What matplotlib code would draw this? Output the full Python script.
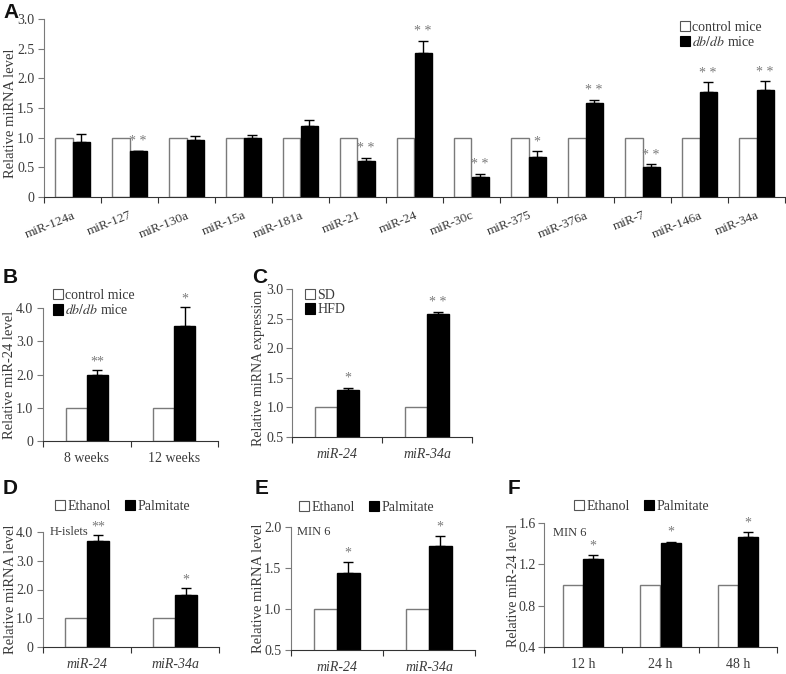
import matplotlib
matplotlib.use("Agg")
import matplotlib.pyplot as plt
import matplotlib.patches as patches
import matplotlib.transforms as mtransforms
import numpy as np

plt.rcParams['font.family'] = ['Liberation Serif', 'DejaVu Serif']
plt.rcParams['mathtext.fontset'] = 'stix'

GRAY = '#7a7a7a'
TXT = '#3a3a3a'

# ---- data ----
a_labels = ['miR-124a', 'miR-127', 'miR-130a', 'miR-15a', 'miR-181a', 'miR-21', 'miR-24',
            'miR-30c', 'miR-375', 'miR-376a', 'miR-7', 'miR-146a', 'miR-34a']
a_ctrl = [1.0] * 13
a_dbdb = [0.92, 0.77, 0.96, 1.0, 1.2, 0.61, 2.43, 0.33, 0.68, 1.59, 0.5, 1.77, 1.81]
a_err = [0.14, 0.01, 0.07, 0.05, 0.09, 0.05, 0.2, 0.06, 0.09, 0.05, 0.05, 0.16, 0.14]
a_sig = ['', '* *', '', '', '', '* *', '* *', '* *', '*', '* *', '* *', '* *', '* *']

b_labels = ['8 weeks', '12 weeks']
b_ctrl = [1.0, 1.0]
b_dbdb = [1.98, 3.45]
b_err = [0.16, 0.57]
b_sig = ['**', '*']

c_labels = ['miR-24', 'miR-34a']
c_sd = [1.0, 1.0]
c_hfd = [1.3, 2.58]
c_err = [0.035, 0.035]
c_sig = ['*', '* *']

d_labels = ['miR-24', 'miR-34a']
d_eth = [1.0, 1.0]
d_pal = [3.7, 1.82]
d_err = [0.2, 0.22]
d_sig = ['**', '*']

e_labels = ['miR-24', 'miR-34a']
e_eth = [1.0, 1.0]
e_pal = [1.44, 1.77]
e_err = [0.13, 0.12]
e_sig = ['*', '*']

f_labels = ['12 h', '24 h', '48 h']
f_eth = [1.0, 1.0, 1.0]
f_pal = [1.25, 1.41, 1.46]
f_err = [0.04, 0.01, 0.05]
f_sig = ['*', '*', '*']

W, H = 786, 674
fig = plt.figure(figsize=(W / 100, H / 100), dpi=100)


def px_axes(x0, x1, ytop, ybot):
    return fig.add_axes([x0 / W, (H - ybot) / H, (x1 - x0) / W, (ybot - ytop) / H])


def bar_panel(ax, labels, ctrl, treat, err, sig, ylim, yticks, yticklabels, ylabel,
              bw=0.25, italic=False, fs=10, sig_off=3):
    n = len(labels)
    x = np.arange(n) + 0.5
    ax.bar(x - bw / 2, ctrl, bw, facecolor='white', edgecolor=GRAY, linewidth=1.0, zorder=2)
    ax.bar(x + bw / 2, treat, bw, facecolor='black', edgecolor='black', linewidth=1.0, zorder=2)
    ax.errorbar(x + bw / 2, treat, yerr=[np.zeros(n), err], fmt='none', ecolor='black',
                elinewidth=1.0, capsize=3.5, capthick=1.0, zorder=3, clip_on=False)
    for xi, v, e, s in zip(x, treat, err, sig):
        if s:
            ax.annotate(s, (xi + bw / 2, v + e), xytext=(0, sig_off), textcoords='offset points',
                        ha='center', va='bottom', fontsize=fs, color=GRAY,
                        annotation_clip=False)
    ax.set_xlim(0, n)
    ax.set_ylim(*ylim)
    ax.set_yticks(yticks)
    ax.set_yticklabels(yticklabels, fontsize=fs, color=TXT)
    ax.set_xticks(np.arange(n + 1))
    ax.set_xticklabels([])
    ax.set_xticks(x, minor=True)
    ax.set_xticklabels(labels, minor=True, fontsize=fs, color=TXT,
                       fontstyle='italic' if italic else 'normal')
    ax.tick_params(axis='x', which='minor', length=0, pad=8)
    ax.tick_params(axis='x', which='major', length=4, color='#333333', direction='out')
    ax.tick_params(axis='y', length=4, color=GRAY, direction='out', pad=3)
    for s in ['top', 'right']:
        ax.spines[s].set_visible(False)
    ax.spines['left'].set_color(GRAY)
    ax.spines['bottom'].set_color('#333333')
    ax.set_ylabel(ylabel, fontsize=fs + 0.5, color=TXT)
    return x


def square_handles():
    return [patches.Rectangle((0, 0), 1, 1, facecolor='white', edgecolor='#555555', linewidth=0.8),
            patches.Rectangle((0, 0), 1, 1, facecolor='black', edgecolor='black', linewidth=0.8)]


def add_legend(ax, names, x, y, ncol=1, fs=10):
    ax.legend(square_handles(), names, loc='upper left', bbox_to_anchor=(x, y), ncol=ncol,
              frameon=False, fontsize=fs, handlelength=0.75, handleheight=0.75,
              handletextpad=0.15, labelspacing=0.1, columnspacing=1.0, borderpad=0,
              borderaxespad=0, labelcolor=TXT)


# ---- A ----
axA = px_axes(44, 785, 19, 197)
bar_panel(axA, a_labels, a_ctrl, a_dbdb, a_err, a_sig, (0, 3.0),
          [0, 0.5, 1.0, 1.5, 2.0, 2.5, 3.0], ['0', '0.5', '1.0', '1.5', '2.0', '2.5', '3.0'],
          'Relative miRNA level', bw=0.3, fs=10, sig_off=2)
off = mtransforms.ScaledTranslation(2 / 72, 0, fig.dpi_scale_trans)
for lab in axA.get_xticklabels(minor=True):
    lab.set_rotation(22)
    lab.set_ha('right')
    lab.set_va('top')
    lab.set_rotation_mode('anchor')
    lab.set_fontsize(9.5)
    lab.set_transform(lab.get_transform() + off)
axA.tick_params(axis='x', which='minor', pad=9)
axA.yaxis.set_label_coords(-0.036, 0.47)
add_legend(axA, ['control mice', r'$\it{db/db}$ mice'], 0.858, 0.99)

# ---- B ----
axB = px_axes(43, 218, 308, 441)
bar_panel(axB, b_labels, b_ctrl, b_dbdb, b_err, b_sig, (0, 4.0),
          [0, 1, 2, 3, 4], ['0', '1.0', '2.0', '3.0', '4.0'], 'Relative miR-24 level',
          bw=0.24, fs=10, sig_off=1)
axB.yaxis.set_label_coords(-0.155, 0.5)
add_legend(axB, ['control mice', r'$\it{db/db}$ mice'], 0.057, 1.143)

# ---- C ----
axC = px_axes(292, 472, 289, 437)
bar_panel(axC, c_labels, c_sd, c_hfd, c_err, c_sig, (0.5, 3.0),
          [0.5, 1.0, 1.5, 2.0, 2.5, 3.0], ['0.5', '1.0', '1.5', '2.0', '2.5', '3.0'],
          'Relative miRNA expression', bw=0.24, italic=True, fs=10, sig_off=2)
axC.tick_params(axis='y', pad=2)
axC.yaxis.label.set_fontsize(10)
axC.yaxis.set_label_coords(-0.152, 0.47)
add_legend(axC, ['SD', 'HFD'], 0.072, 1.0)

# ---- D ----
axD = px_axes(43, 219, 532, 647)
bar_panel(axD, d_labels, d_eth, d_pal, d_err, d_sig, (0, 4.0),
          [0, 1, 2, 3, 4], ['0', '1.0', '2.0', '3.0', '4.0'], 'Relative miRNA level',
          bw=0.25, italic=True, fs=10, sig_off=1)
axD.yaxis.set_label_coords(-0.148, 0.5)
axD.text(0.04, 1.0, 'H-islets', transform=axD.transAxes, fontsize=9, color=TXT, va='center')
add_legend(axD, ['Ethanol', 'Palmitate'], 0.068, 1.278, ncol=2)

# ---- E ----
axE = px_axes(291, 475, 527, 650)
bar_panel(axE, e_labels, e_eth, e_pal, e_err, e_sig, (0.5, 2.0),
          [0.5, 1.0, 1.5, 2.0], ['0.5', '1.0', '1.5', '2.0'], 'Relative miRNA level',
          bw=0.245, italic=True, fs=10, sig_off=2)
axE.yaxis.set_label_coords(-0.141, 0.5)
axE.text(0.03, 0.96, 'MIN 6', transform=axE.transAxes, fontsize=9, color=TXT, va='center')
add_legend(axE, ['Ethanol', 'Palmitate'], 0.043, 1.21, ncol=2)

# ---- F ----
axF = px_axes(544, 777, 523, 647)
bar_panel(axF, f_labels, f_eth, f_pal, f_err, f_sig, (0.4, 1.6),
          [0.4, 0.8, 1.2, 1.6], ['0.4', '0.8', '1.2', '1.6'], 'Relative miR-24 level',
          bw=0.26, fs=10, sig_off=2)
axF.tick_params(axis='y', pad=2)
axF.yaxis.label.set_fontsize(10)
axF.yaxis.set_label_coords(-0.105, 0.5)
axF.text(0.04, 0.92, 'MIN 6', transform=axF.transAxes, fontsize=9, color=TXT, va='center')
add_legend(axF, ['Ethanol', 'Palmitate'], 0.129, 1.185, ncol=2)

# panel letters
for letter, x, y in [('A', 3, 13), ('B', 3, 278), ('C', 252, 278),
                     ('D', 3, 488), ('E', 255, 488), ('F', 508, 488)]:
    fig.text(x / W, 1 - y / H, letter, fontsize=15, fontweight='bold',
             family='Liberation Sans', va='center', ha='left', color='#111111')

fig.savefig('out.png', dpi=100)
